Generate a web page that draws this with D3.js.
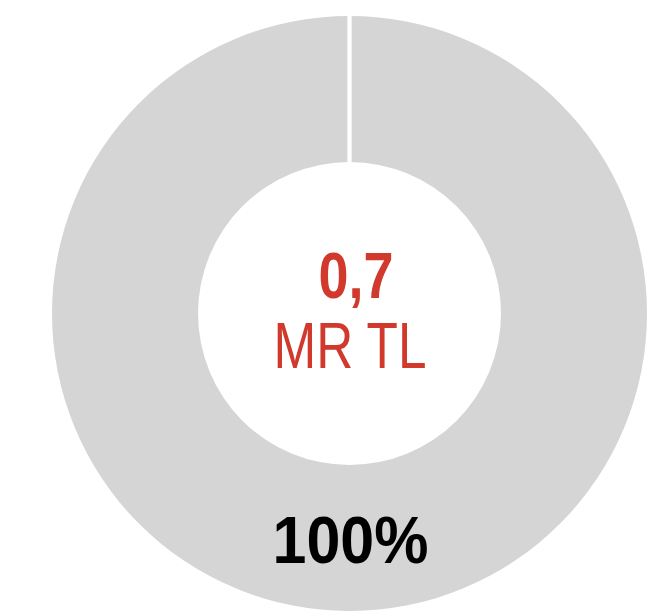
<!DOCTYPE html>
<html>
<head>
<meta charset="utf-8">
<script src="https://cdn.jsdelivr.net/npm/d3@7"></script>
<style>
body { margin: 0; background: #fff; }
</style>
</head>
<body>
<script>
var width = 662,
	height = 612;

var categories = ["MR TL"];
var values = [100];
var shareLabels = ["100%"];
var centerValue = "0,7";
var centerUnit = "MR TL";

var cx = 349.5, cy = 313.5;
var innerR = 151.5, outerR = 297.5;

var svg = d3.select("body").append("svg")
	.attr("width", width)
	.attr("height", height);

var g = svg.append("g")
	.attr("transform", "translate(" + cx + "," + cy + ")");

var pie = d3.pie().sort(null).value(function(d) { return d; });
var arc = d3.arc().innerRadius(innerR).outerRadius(outerR);
var slices = pie(values);

g.selectAll(".slice")
	.data(slices)
	.enter().append("path")
	.attr("class", "slice")
	.attr("d", arc)
	.attr("fill", "#d5d5d5");

// white separator at each slice start
g.selectAll(".sep")
	.data(slices)
	.enter().append("line")
	.attr("class", "sep")
	.attr("x1", function(d) { return Math.sin(d.startAngle) * (innerR - 2); })
	.attr("y1", function(d) { return -Math.cos(d.startAngle) * (innerR - 2); })
	.attr("x2", function(d) { return Math.sin(d.startAngle) * (outerR + 2); })
	.attr("y2", function(d) { return -Math.cos(d.startAngle) * (outerR + 2); })
	.attr("stroke", "#ffffff")
	.attr("stroke-width", 4.3);

// percentage label at the bottom of the ring
g.append("text")
	.attr("x", -77)
	.attr("y", 249.5)
	.attr("textLength", 156)
	.attr("lengthAdjust", "spacingAndGlyphs")
	.style("font-family", "'Liberation Sans', Arial, sans-serif")
	.style("font-weight", "bold")
	.style("font-size", "67px")
	.attr("fill", "#000")
	.text(shareLabels[0]);

// centre text
g.append("text")
	.attr("x", -31)
	.attr("y", -15.5)
	.attr("textLength", 75)
	.attr("lengthAdjust", "spacingAndGlyphs")
	.style("font-family", "'Liberation Sans', Arial, sans-serif")
	.style("font-weight", "bold")
	.style("font-size", "64px")
	.attr("fill", "#d0392b")
	.text(centerValue);

g.append("text")
	.attr("x", -76)
	.attr("y", 54.5)
	.attr("textLength", 153)
	.attr("lengthAdjust", "spacingAndGlyphs")
	.style("font-family", "'Liberation Sans', Arial, sans-serif")
	.style("font-size", "65px")
	.attr("fill", "#d0392b")
	.text(centerUnit);
</script>
</body>
</html>
